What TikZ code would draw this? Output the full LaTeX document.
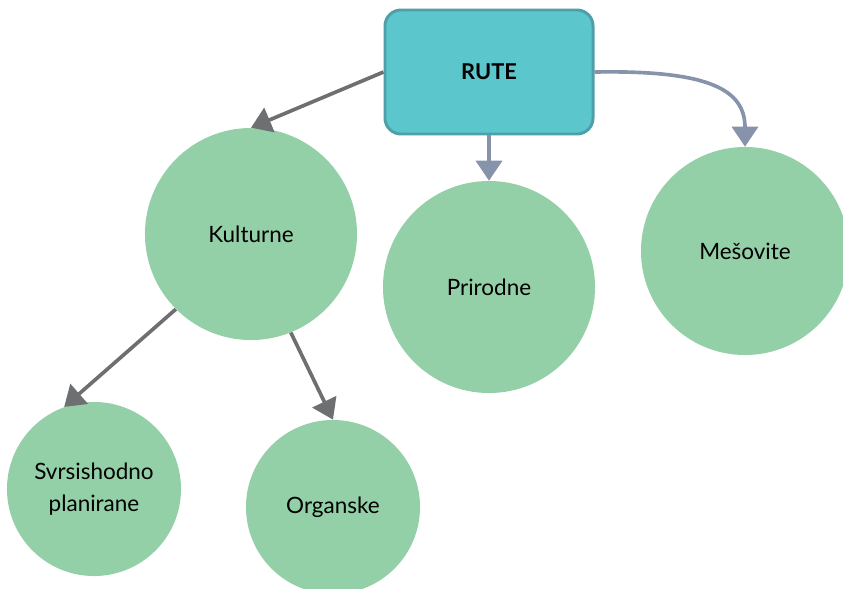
\documentclass[tikz,border=0pt]{standalone}
\usepackage{fontspec}
\setmainfont{Lato}
\usetikzlibrary{arrows.meta}
\definecolor{rutefill}{HTML}{5CC6CD}
\definecolor{rutedraw}{HTML}{4E9FA7}
\definecolor{krug}{HTML}{94D0A7}
\definecolor{sivastr}{HTML}{6E6F71}
\definecolor{plavastr}{HTML}{8793AA}
\begin{document}
\begin{tikzpicture}[x=0.025cm, y=-0.025cm,
	glavni/.style={draw=rutedraw, fill=rutefill, line width=2.1pt, rounded corners=0.4cm,
		minimum width=5.2cm, minimum height=3.1cm, font=\fontsize{15.5}{18}\selectfont\bfseries},
	krugvel/.style={circle, fill=krug, minimum size=5.3cm, font=\fontsize{16}{19}\selectfont},
	krugmal/.style={circle, fill=krug, minimum size=4.35cm, align=center, font=\fontsize{16}{23}\selectfont},
	strelica/.style={line width=2.6pt, -{Triangle[length=0.5cm, width=0.65cm]}}]
	\useasboundingbox (0,0) rectangle (843,588);
	\node[glavni] (rute) at (489,72) {RUTE};
	\node[krugvel] (kulturne) at (251,234) {Kulturne};
	\node[krugvel] (prirodne) at (489,287) {Prirodne};
	\node[krugvel, minimum size=5.2cm] (mesovite) at (745,251) {Mešovite};
	\node[krugmal] (svrsishodno) at (94,489) {Svrsishodno\\planirane};
	\node[krugmal] (organske) at (333,507) {Organske};
	% strelice od RUTE
	\draw[strelica, sivastr] (rute.west) -- (kulturne.north);
	\draw[strelica, plavastr] (rute.south) -- (prirodne.north);
	\draw[strelica, plavastr] (rute.east) .. controls (710,70) and (745,90) .. (mesovite.north);
	% strelice od Kulturne
	\draw[strelica, sivastr] (kulturne.225) -- (svrsishodno.110);
	\draw[strelica, sivastr] (kulturne.292) -- (organske.north);
\end{tikzpicture}
\end{document}
